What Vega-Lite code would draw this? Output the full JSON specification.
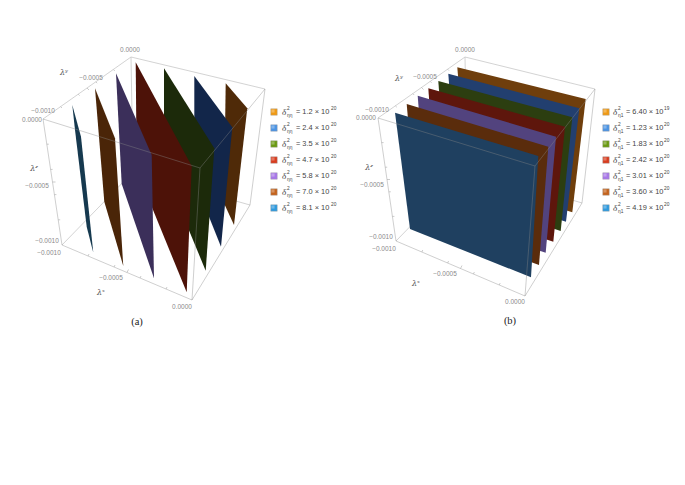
{"$schema":"https://vega.github.io/schema/vega-lite/v6.json","width":685,"height":485,"padding":0,"autosize":{"type":"fit","contains":"padding"},"background":"white","view":{"stroke":null},
"resolve":{"scale":{"fill":"independent"}},
"datasets":{
"edges":[
{"e":"a1","k":"back","i":0,"u":131,"v":57},{"e":"a1","k":"back","i":1,"u":43,"v":119},
{"e":"a2","k":"back","i":0,"u":131,"v":57},{"e":"a2","k":"back","i":1,"u":265,"v":89},
{"e":"a3","k":"back","i":0,"u":131,"v":57},{"e":"a3","k":"back","i":1,"u":133,"v":172},
{"e":"a4","k":"back","i":0,"u":133,"v":172},{"e":"a4","k":"back","i":1,"u":62,"v":245},
{"e":"a5","k":"back","i":0,"u":133,"v":172},{"e":"a5","k":"back","i":1,"u":250,"v":205},
{"e":"a6","k":"front","i":0,"u":43,"v":119},{"e":"a6","k":"front","i":1,"u":200,"v":168},
{"e":"a7","k":"front","i":0,"u":265,"v":89},{"e":"a7","k":"front","i":1,"u":200,"v":168},
{"e":"a8","k":"front","i":0,"u":200,"v":168},{"e":"a8","k":"front","i":1,"u":192,"v":300},
{"e":"a9","k":"front","i":0,"u":43,"v":119},{"e":"a9","k":"front","i":1,"u":62,"v":245},
{"e":"a10","k":"front","i":0,"u":62,"v":245},{"e":"a10","k":"front","i":1,"u":192,"v":300},
{"e":"a11","k":"front","i":0,"u":192,"v":300},{"e":"a11","k":"front","i":1,"u":250,"v":205},
{"e":"a12","k":"front","i":0,"u":250,"v":205},{"e":"a12","k":"front","i":1,"u":265,"v":89},
{"e":"b1","k":"back","i":0,"u":465,"v":57},{"e":"b1","k":"back","i":1,"u":378,"v":118},
{"e":"b2","k":"back","i":0,"u":465,"v":57},{"e":"b2","k":"back","i":1,"u":595,"v":89},
{"e":"b3","k":"back","i":0,"u":465,"v":57},{"e":"b3","k":"back","i":1,"u":467,"v":168},
{"e":"b4","k":"back","i":0,"u":467,"v":168},{"e":"b4","k":"back","i":1,"u":396,"v":241},
{"e":"b5","k":"back","i":0,"u":467,"v":168},{"e":"b5","k":"back","i":1,"u":582,"v":203},
{"e":"b6","k":"front","i":0,"u":378,"v":118},{"e":"b6","k":"front","i":1,"u":535,"v":166},
{"e":"b7","k":"front","i":0,"u":595,"v":89},{"e":"b7","k":"front","i":1,"u":535,"v":166},
{"e":"b8","k":"front","i":0,"u":535,"v":166},{"e":"b8","k":"front","i":1,"u":525,"v":296},
{"e":"b9","k":"front","i":0,"u":378,"v":118},{"e":"b9","k":"front","i":1,"u":396,"v":241},
{"e":"b10","k":"front","i":0,"u":396,"v":241},{"e":"b10","k":"front","i":1,"u":525,"v":296},
{"e":"b11","k":"front","i":0,"u":525,"v":296},{"e":"b11","k":"front","i":1,"u":582,"v":203},
{"e":"b12","k":"front","i":0,"u":582,"v":203},{"e":"b12","k":"front","i":1,"u":595,"v":89}
],
"ticks":[
{"u":88,"v":256,"u2":89,"v2":254},{"u":114,"v":267,"u2":115,"v2":265},{"u":127,"v":272.5,"u2":128.5,"v2":269.5},{"u":140,"v":278,"u2":141,"v2":276},{"u":166,"v":289,"u2":167,"v2":287},
{"u":60.6,"v":106.6,"u2":62,"v2":108},{"u":78.2,"v":94.2,"u2":79.6,"v2":95.6},{"u":87,"v":88,"u2":89,"v2":90},{"u":95.8,"v":81.8,"u2":97.2,"v2":83.2},{"u":113.4,"v":69.6,"u2":114.8,"v2":71},
{"u":46.8,"v":144.2,"u2":48.8,"v2":144.2},{"u":50.6,"v":169.4,"u2":52.6,"v2":169.4},{"u":52.5,"v":182,"u2":55.5,"v2":182},{"u":54.4,"v":194.6,"u2":56.4,"v2":194.6},{"u":58.2,"v":219.8,"u2":60.2,"v2":219.8},
{"u":421.8,"v":252,"u2":422.8,"v2":250},{"u":447.6,"v":263,"u2":448.6,"v2":261},{"u":460.5,"v":268.5,"u2":462,"v2":265.5},{"u":473.4,"v":274,"u2":474.4,"v2":272},{"u":499.2,"v":285,"u2":500.2,"v2":283},
{"u":395.4,"v":105.8,"u2":396.8,"v2":107.2},{"u":412.8,"v":93.6,"u2":414.2,"v2":95},{"u":421.5,"v":87.5,"u2":423.5,"v2":89.5},{"u":430.2,"v":81.4,"u2":431.6,"v2":82.8},{"u":447.6,"v":69.2,"u2":449,"v2":70.6},
{"u":381.6,"v":142.6,"u2":383.6,"v2":142.6},{"u":385.2,"v":167.2,"u2":387.2,"v2":167.2},{"u":387,"v":179.5,"u2":390,"v2":179.5},{"u":388.8,"v":191.8,"u2":390.8,"v2":191.8},{"u":392.4,"v":216.4,"u2":394.4,"v2":216.4}
],
"planes":[
{"p":"a1","i":0,"u":225.7,"v":83.3},{"p":"a1","i":1,"u":247.3,"v":108.3},{"p":"a1","i":2,"u":234,"v":225},{"p":"a1","i":3,"u":224,"v":203.3},
{"p":"a2","i":0,"u":194.3,"v":76},{"p":"a2","i":1,"u":232.3,"v":127.3},{"p":"a2","i":2,"u":221,"v":246.7},{"p":"a2","i":3,"u":194.3,"v":180},
{"p":"a3","i":0,"u":164,"v":68.3},{"p":"a3","i":1,"u":214.3,"v":148.3},{"p":"a3","i":2,"u":205.7,"v":270.7},{"p":"a3","i":3,"u":164,"v":170},
{"p":"a4","i":0,"u":135.7,"v":62.3},{"p":"a4","i":1,"u":191.7,"v":166},{"p":"a4","i":2,"u":186.7,"v":292.3},{"p":"a4","i":3,"u":136.7,"v":170},
{"p":"a5","i":0,"u":116,"v":73.3},{"p":"a5","i":1,"u":151.7,"v":155},{"p":"a5","i":2,"u":154,"v":278.3},{"p":"a5","i":3,"u":121.7,"v":184},
{"p":"a6","i":0,"u":95,"v":88.3},{"p":"a6","i":1,"u":115,"v":138.3},{"p":"a6","i":2,"u":123.3,"v":266},{"p":"a6","i":3,"u":104.3,"v":201.7},
{"p":"a7","i":0,"u":72.3,"v":105},{"p":"a7","i":1,"u":81,"v":136.7},{"p":"a7","i":2,"u":93.3,"v":252.7},{"p":"a7","i":3,"u":86.7,"v":226.7},{"p":"a7","i":4,"u":75,"v":130},
{"p":"b1","i":0,"u":457.3,"v":67.3},{"p":"b1","i":1,"u":585.7,"v":99},{"p":"b1","i":2,"u":572.3,"v":212.3},{"p":"b1","i":3,"u":466.7,"v":180},
{"p":"b2","i":0,"u":448.3,"v":73.7},{"p":"b2","i":1,"u":579.3,"v":108.3},{"p":"b2","i":2,"u":566,"v":221.7},{"p":"b2","i":3,"u":456.7,"v":186.7},
{"p":"b3","i":0,"u":438.3,"v":81},{"p":"b3","i":1,"u":572.3,"v":117.3},{"p":"b3","i":2,"u":560.7,"v":231},{"p":"b3","i":3,"u":446.7,"v":193.3},
{"p":"b4","i":0,"u":428.3,"v":88.3},{"p":"b4","i":1,"u":565,"v":126.7},{"p":"b4","i":2,"u":553.3,"v":241.7},{"p":"b4","i":3,"u":436.7,"v":203.3},
{"p":"b5","i":0,"u":417.7,"v":95.7},{"p":"b5","i":1,"u":556,"v":136.7},{"p":"b5","i":2,"u":545.7,"v":252.7},{"p":"b5","i":3,"u":426.7,"v":213.3},
{"p":"b6","i":0,"u":406.7,"v":104},{"p":"b6","i":1,"u":548.3,"v":146.7},{"p":"b6","i":2,"u":539,"v":265},{"p":"b6","i":3,"u":416.7,"v":220},
{"p":"b7","i":0,"u":395,"v":112.7},{"p":"b7","i":1,"u":538.3,"v":156},{"p":"b7","i":2,"u":531,"v":277.3},{"p":"b7","i":3,"u":410,"v":229}
],
"ticklabels":[
{"t":"0.0000","u":130,"v":50},{"t":"−0.0005","u":91,"v":78},{"t":"−0.0010","u":43,"v":111},{"t":"0.0000","u":32,"v":120},{"t":"−0.0005","u":37,"v":186},{"t":"−0.0010","u":47,"v":241},{"t":"−0.0010","u":49,"v":253},{"t":"−0.0005","u":111,"v":278},{"t":"0.0000","u":182,"v":307},
{"t":"0.0000","u":465,"v":50},{"t":"−0.0005","u":425,"v":77},{"t":"−0.0010","u":377,"v":110},{"t":"0.0000","u":366,"v":118},{"t":"−0.0005","u":372,"v":185},{"t":"−0.0010","u":381,"v":237},{"t":"−0.0010","u":384,"v":249},{"t":"−0.0005","u":445,"v":274},{"t":"0.0000","u":515,"v":302}
],
"titles":[
{"t":"λʸ","u":64,"v":73},{"t":"λᶻ","u":34,"v":169},{"t":"λˣ","u":101,"v":293},
{"t":"λʸ","u":399,"v":79},{"t":"λᶻ","u":369,"v":168},{"t":"λˣ","u":416,"v":284}
],
"captions":[{"t":"(a)","u":137,"v":322},{"t":"(b)","u":510,"v":321}],
"swatches":[
{"s":"1","u":274,"v":112},{"s":"2","u":274,"v":128},{"s":"3","u":274,"v":144},{"s":"4","u":274,"v":160},{"s":"5","u":274,"v":176},{"s":"6","u":274,"v":192},{"s":"7","u":274,"v":208},
{"s":"1","u":606,"v":112},{"s":"2","u":606,"v":128},{"s":"3","u":606,"v":144},{"s":"4","u":606,"v":160},{"s":"5","u":606,"v":176},{"s":"6","u":606,"v":192},{"s":"7","u":606,"v":208}
],
"delta":[
{"u":284,"v":112},{"u":284,"v":128},{"u":284,"v":144},{"u":284,"v":160},{"u":284,"v":176},{"u":284,"v":192},{"u":284,"v":208},
{"u":615,"v":112},{"u":615,"v":128},{"u":615,"v":144},{"u":615,"v":160},{"u":615,"v":176},{"u":615,"v":192},{"u":615,"v":208}
],
"eq":[
{"t":"= 1.2 × 10","u":296,"v":112},{"t":"= 2.4 × 10","u":296,"v":128},{"t":"= 3.5 × 10","u":296,"v":144},{"t":"= 4.7 × 10","u":296,"v":160},{"t":"= 5.8 × 10","u":296,"v":176},{"t":"= 7.0 × 10","u":296,"v":192},{"t":"= 8.1 × 10","u":296,"v":208},
{"t":"= 6.40 × 10","u":626,"v":112},{"t":"= 1.23 × 10","u":626,"v":128},{"t":"= 1.83 × 10","u":626,"v":144},{"t":"= 2.42 × 10","u":626,"v":160},{"t":"= 3.01 × 10","u":626,"v":176},{"t":"= 3.60 × 10","u":626,"v":192},{"t":"= 4.19 × 10","u":626,"v":208}
],
"small":[
{"t":"20","u":331,"v":109},{"t":"20","u":331,"v":125},{"t":"20","u":331,"v":141},{"t":"20","u":331,"v":157},{"t":"20","u":331,"v":173},{"t":"20","u":331,"v":189},{"t":"20","u":331,"v":205},
{"t":"19","u":664,"v":109},{"t":"20","u":664,"v":125},{"t":"20","u":664,"v":141},{"t":"20","u":664,"v":157},{"t":"20","u":664,"v":173},{"t":"20","u":664,"v":189},{"t":"20","u":664,"v":205},
{"t":"2","u":287,"v":108.5},{"t":"2","u":287,"v":124.5},{"t":"2","u":287,"v":140.5},{"t":"2","u":287,"v":156.5},{"t":"2","u":287,"v":172.5},{"t":"2","u":287,"v":188.5},{"t":"2","u":287,"v":204.5},
{"t":"2","u":618,"v":108.5},{"t":"2","u":618,"v":124.5},{"t":"2","u":618,"v":140.5},{"t":"2","u":618,"v":156.5},{"t":"2","u":618,"v":172.5},{"t":"2","u":618,"v":188.5},{"t":"2","u":618,"v":204.5},
{"t":"ηη","u":287,"v":115.5},{"t":"ηη","u":287,"v":131.5},{"t":"ηη","u":287,"v":147.5},{"t":"ηη","u":287,"v":163.5},{"t":"ηη","u":287,"v":179.5},{"t":"ηη","u":287,"v":195.5},{"t":"ηη","u":287,"v":211.5},
{"t":"η1","u":618,"v":115.5},{"t":"η1","u":618,"v":131.5},{"t":"η1","u":618,"v":147.5},{"t":"η1","u":618,"v":163.5},{"t":"η1","u":618,"v":179.5},{"t":"η1","u":618,"v":195.5},{"t":"η1","u":618,"v":211.5}
]
},
"encoding":{
"x":{"field":"u","type":"quantitative","scale":{"domain":[0,685]},"axis":null},
"y":{"field":"v","type":"quantitative","scale":{"domain":[485,0]},"axis":null}
},
"layer":[
{"data":{"name":"edges"},"transform":[{"filter":"datum.k==='back'"}],"mark":{"type":"line","stroke":"#c8c8c8","strokeWidth":0.8},"encoding":{"detail":{"field":"e"},"order":{"field":"i"}}},
{"data":{"name":"planes"},"mark":{"type":"line","strokeWidth":0,"fill":"#444"},"encoding":{"detail":{"field":"p"},"order":{"field":"i"},"fill":{"field":"p","type":"nominal","legend":null,"scale":{"domain":["a1","a2","a3","a4","a5","a6","a7","b1","b2","b3","b4","b5","b6","b7"],"range":["#4f2a08","#12264a","#1c2a0a","#4d1208","#3b2f5a","#4a2508","#16394f","#6f3e0c","#223f6f","#2c3e10","#5e160c","#52437e","#5a2c0c","#1f4060"]}}}},
{"data":{"name":"edges"},"transform":[{"filter":"datum.k==='front'"}],"mark":{"type":"line","stroke":"#888888","strokeWidth":0.8,"opacity":0.5},"encoding":{"detail":{"field":"e"},"order":{"field":"i"}}},
{"data":{"name":"ticks"},"mark":{"type":"rule","stroke":"#aaaaaa","strokeWidth":0.6},"encoding":{"x2":{"field":"u2"},"y2":{"field":"v2"}}},
{"data":{"name":"ticklabels"},"mark":{"type":"text","font":"Liberation Sans","fontSize":6.5,"fill":"#8a8a8a"},"encoding":{"text":{"field":"t"}}},
{"data":{"name":"titles"},"mark":{"type":"text","font":"DejaVu Serif","fontStyle":"italic","fontSize":8,"fill":"#555555"},"encoding":{"text":{"field":"t"}}},
{"data":{"name":"captions"},"mark":{"type":"text","font":"Liberation Serif","fontSize":10.5,"fill":"#222222"},"encoding":{"text":{"field":"t"}}},
{"data":{"name":"swatches"},"mark":{"type":"point","shape":"square","filled":true,"size":42,"opacity":1,"stroke":"#999999","strokeWidth":0.4},"encoding":{"fill":{"field":"s","type":"nominal","legend":null,"scale":{"domain":["1","2","3","4","5","6","7"],"range":["#f09a14","#4b94e4","#6a9a12","#d93c1e","#a878e8","#c4631c","#2e9ade"]}}}},
{"data":{"name":"swatches"},"mark":{"type":"point","shape":"square","filled":true,"size":10,"opacity":0.3,"fill":"#ffffff","xOffset":-1,"yOffset":-1}},
{"data":{"name":"delta"},"mark":{"type":"text","font":"Liberation Serif","fontStyle":"italic","fontSize":9,"fill":"#444444","text":"δ"}},
{"data":{"name":"eq"},"mark":{"type":"text","font":"Liberation Sans","fontSize":7.4,"fill":"#444444","align":"left"},"encoding":{"text":{"field":"t"}}},
{"data":{"name":"small"},"mark":{"type":"text","font":"Liberation Sans","fontSize":4.8,"fill":"#444444","align":"left"},"encoding":{"text":{"field":"t"}}}
]}
